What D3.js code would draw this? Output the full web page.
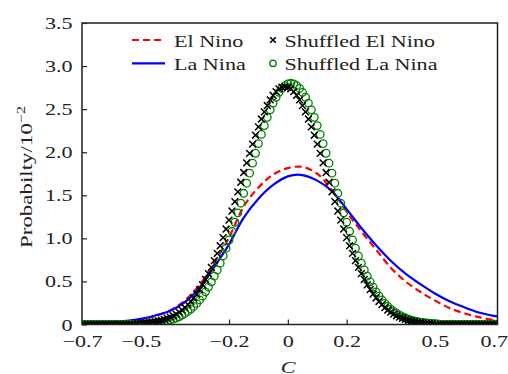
<!DOCTYPE html>
<html>
<head>
<meta charset="utf-8">
<script src="https://cdn.jsdelivr.net/npm/d3@7"></script>
<style>
  body { margin: 0; background: #fff; }
  text { font-family: "Liberation Serif", "Times New Roman", serif; font-size: 17px; fill: #222; }
</style>
</head>
<body>
<div id="chart"></div>
<script>
const seriesNames = ["El Nino", "La Nina", "Shuffled El Nino", "Shuffled La Nina"];

// smooth distributions, read at C = -0.70 ... 0.70 (step 0.05) plus the right edge
const lineC  = [-0.70, -0.65, -0.60, -0.55, -0.50, -0.45, -0.40, -0.35, -0.30, -0.25, -0.20, -0.15, -0.10, -0.05,
                 0.00, 0.05, 0.10, 0.15, 0.20, 0.25, 0.30, 0.35, 0.40, 0.45, 0.50, 0.55, 0.60, 0.65, 0.70, 0.713];
const elNino = [0.006, 0.010, 0.018, 0.032, 0.058, 0.100, 0.165, 0.280, 0.460, 0.720, 1.010, 1.370, 1.590, 1.740,
                1.815, 1.830, 1.750, 1.560, 1.310, 1.080, 0.870, 0.660, 0.500, 0.380, 0.280, 0.190, 0.130, 0.085, 0.052, 0.047];
const laNina = [0.012, 0.018, 0.027, 0.042, 0.065, 0.105, 0.160, 0.260, 0.430, 0.670, 0.930, 1.240, 1.460, 1.620,
                1.720, 1.735, 1.670, 1.550, 1.340, 1.120, 0.920, 0.740, 0.590, 0.470, 0.360, 0.270, 0.200, 0.140, 0.100, 0.094];

// shuffled series, one marker every 0.01 from C = -0.70 to 0.71
const shuffledStart = -0.70, shuffledStep = 0.01;
const shuffledElNino = [
  0, 0, 0, 0, 0, 0, 0, 0, 0, 0, 0, 0, 0, 0, 0, 0, 0, 0, 0,
  0.009, 0.011, 0.014, 0.018, 0.022, 0.027, 0.033, 0.041, 0.049, 0.059, 0.072,
  0.086, 0.102, 0.121, 0.143, 0.168, 0.197, 0.230, 0.267, 0.308, 0.354,
  0.405, 0.461, 0.523, 0.590, 0.663, 0.741, 0.825, 0.914, 1.009, 1.108,
  1.211, 1.317, 1.427, 1.539, 1.651, 1.764, 1.877, 1.987, 2.094, 2.197,
  2.294, 2.385, 2.468, 2.542, 2.607, 2.661, 2.704, 2.735, 2.754, 2.760,
  2.754, 2.735, 2.704, 2.661, 2.607, 2.542, 2.468, 2.385, 2.294, 2.197,
  2.094, 1.987, 1.877, 1.764, 1.651, 1.539, 1.427, 1.317, 1.211, 1.108,
  1.009, 0.914, 0.825, 0.741, 0.663, 0.590, 0.523, 0.461, 0.405, 0.354,
  0.308, 0.267, 0.230, 0.197, 0.168, 0.143, 0.121, 0.102, 0.086, 0.072,
  0.059, 0.049, 0.041, 0.033, 0.027, 0.022, 0.018, 0.014, 0.011, 0.009,
  0, 0, 0, 0, 0, 0, 0, 0, 0, 0, 0, 0, 0, 0, 0, 0, 0, 0, 0, 0, 0, 0
];
const shuffledLaNina = [
  0, 0, 0, 0, 0, 0, 0, 0, 0, 0, 0, 0, 0, 0, 0, 0, 0, 0, 0, 0, 0,
  0.007, 0.009, 0.012, 0.015, 0.018, 0.023, 0.028, 0.034, 0.042, 0.051, 0.062,
  0.075, 0.090, 0.108, 0.128, 0.152, 0.179, 0.210, 0.245, 0.285, 0.329,
  0.379, 0.434, 0.495, 0.561, 0.633, 0.712, 0.796, 0.886, 0.981, 1.082,
  1.187, 1.296, 1.408, 1.523, 1.640, 1.757, 1.873, 1.988, 2.100, 2.207,
  2.309, 2.405, 2.492, 2.570, 2.638, 2.695, 2.741, 2.773, 2.793, 2.800,
  2.793, 2.773, 2.741, 2.695, 2.638, 2.570, 2.492, 2.405, 2.309, 2.207,
  2.100, 1.988, 1.873, 1.757, 1.640, 1.523, 1.408, 1.296, 1.187, 1.082,
  0.981, 0.886, 0.796, 0.712, 0.633, 0.561, 0.495, 0.434, 0.379, 0.329,
  0.285, 0.245, 0.210, 0.179, 0.152, 0.128, 0.108, 0.090, 0.075, 0.062,
  0.051, 0.042, 0.034, 0.028, 0.023, 0.018, 0.015, 0.012, 0.009, 0.007,
  0, 0, 0, 0, 0, 0, 0, 0, 0, 0, 0, 0, 0, 0, 0, 0, 0, 0, 0, 0
];

const xTicks = [-0.7, -0.5, -0.2, 0, 0.2, 0.5, 0.7];
const yTicks = [0, 0.5, 1.0, 1.5, 2.0, 2.5, 3.0, 3.5];

const width = 508,
      height = 374,
      margin = ({ top: 23, right: 10.5, bottom: 49.5, left: 82 });
const stretch = 1.3; // the original lettering is wide, stretch the serif font sideways

let svg = d3.select("#chart")
    .append("svg")
    .attr("width", width)
    .attr("height", height);

let x = d3.scaleLinear()
    .domain([-0.7, 0.713])
    .range([margin.left, width - margin.right]);

let y = d3.scaleLinear()
    .domain([0, 3.5])
    .range([height - margin.bottom, margin.top]);

const fmt = d => d === 0 ? "0" : d3.format(".1f")(d);

svg.append("defs").append("clipPath")
    .attr("id", "plot-clip")
    .append("rect")
    .attr("x", margin.left)
    .attr("y", margin.top)
    .attr("width", width - margin.left - margin.right)
    .attr("height", height - margin.top - margin.bottom);

// axes, ticks pointing inward
svg.append("g")
    .attr("transform", `translate(0,${height - margin.bottom})`)
    .style("color", "#222")
    .call(d3.axisBottom(x).tickValues(xTicks).tickFormat(fmt).tickSize(-5).tickSizeOuter(0))
    .call(g => g.select(".domain").remove())
    .call(g => g.selectAll(".tick line").attr("stroke-width", 1.2))
    .call(g => g.selectAll("text")
        .attr("y", null)
        .attr("dy", null)
        .attr("transform", `translate(0,22.5) scale(${stretch},1)`));

svg.append("g")
    .attr("transform", `translate(${margin.left},0)`)
    .style("color", "#222")
    .call(d3.axisLeft(y).tickValues(yTicks).tickFormat(fmt).tickSize(-5).tickSizeOuter(0))
    .call(g => g.select(".domain").remove())
    .call(g => g.selectAll(".tick line").attr("stroke-width", 1.2))
    .call(g => g.selectAll("text")
        .attr("x", null)
        .attr("dy", null)
        .attr("text-anchor", "end")
        .attr("transform", `translate(-9.5,5.5) scale(${stretch},1)`));

let plot = svg.append("g").attr("clip-path", "url(#plot-clip)");

// lines
const lineOf = vals => d3.line()
    .x((d, i) => x(lineC[i]))
    .y(d => y(d))
    .curve(d3.curveCatmullRom)(vals);

plot.append("path")
    .attr("d", lineOf(elNino))
    .attr("fill", "none")
    .attr("stroke", "#ff0000")
    .attr("stroke-width", 2.2)
    .attr("stroke-dasharray", "7,4");

plot.append("path")
    .attr("d", lineOf(laNina))
    .attr("fill", "none")
    .attr("stroke", "#0000ff")
    .attr("stroke-width", 2.2);

// markers
const cross = "M-3.4,-3.4L3.4,3.4M-3.4,3.4L3.4,-3.4";

plot.append("g")
    .selectAll("circle")
    .data(shuffledLaNina)
    .join("circle")
    .attr("cx", (d, i) => x(shuffledStart + i * shuffledStep))
    .attr("cy", d => y(d))
    .attr("r", 3.8)
    .attr("fill", "none")
    .attr("stroke", "#008000")
    .attr("stroke-width", 1.3);

plot.append("g")
    .selectAll("path")
    .data(shuffledElNino)
    .join("path")
    .attr("transform", (d, i) => `translate(${x(shuffledStart + i * shuffledStep)},${y(d)})`)
    .attr("d", cross)
    .attr("fill", "none")
    .attr("stroke", "#000")
    .attr("stroke-width", 1.5);

// frame
svg.append("rect")
    .attr("x", margin.left)
    .attr("y", margin.top)
    .attr("width", width - margin.left - margin.right)
    .attr("height", height - margin.top - margin.bottom)
    .attr("fill", "none")
    .attr("stroke", "#222")
    .attr("stroke-width", 1.5);

// legend
const legendItems = [
    { name: seriesNames[0], kind: "dash", color: "#ff0000", col: 0, row: 0 },
    { name: seriesNames[1], kind: "line", color: "#0000ff", col: 0, row: 1 },
    { name: seriesNames[2], kind: "cross", color: "#000", col: 1, row: 0 },
    { name: seriesNames[3], kind: "circle", color: "#008000", col: 1, row: 1 }
];
const legX = [132, 266], legY0 = 40, legRow = 23.3;

let leg = svg.selectAll(".legend")
    .data(legendItems)
    .join("g")
    .attr("class", "legend")
    .attr("transform", d => `translate(${legX[d.col]},${legY0 + d.row * legRow})`);

leg.filter(d => d.kind === "dash" || d.kind === "line")
    .append("line")
    .attr("x1", 0).attr("x2", 33)
    .attr("stroke", d => d.color)
    .attr("stroke-width", 2.2)
    .attr("stroke-dasharray", d => d.kind === "dash" ? "7,4" : null);

leg.filter(d => d.kind === "cross")
    .append("path")
    .attr("transform", "translate(7,0)")
    .attr("d", "M-2.8,-2.8L2.8,2.8M-2.8,2.8L2.8,-2.8")
    .attr("stroke", d => d.color)
    .attr("stroke-width", 1.6);

leg.filter(d => d.kind === "circle")
    .append("circle")
    .attr("cx", 7)
    .attr("r", 3.2)
    .attr("fill", "none")
    .attr("stroke", d => d.color)
    .attr("stroke-width", 1.4);

leg.append("text")
    .attr("transform", d => `translate(${d.col === 0 ? 42 : 18.5},6.5) scale(${stretch},1)`)
    .text(d => d.name);

// axis labels
let yLabel = svg.append("text")
    .attr("transform", `translate(31.5,248) rotate(-90) scale(1.35,1)`)
    .text("Probabilty/10");
yLabel.append("tspan")
    .attr("dy", -7)
    .style("font-size", "12px")
    .text("\u22122");

svg.append("text")
    .attr("transform", `translate(288,373) scale(${stretch},1)`)
    .attr("text-anchor", "middle")
    .style("font-style", "italic")
    .text("C");
</script>
</body>
</html>
